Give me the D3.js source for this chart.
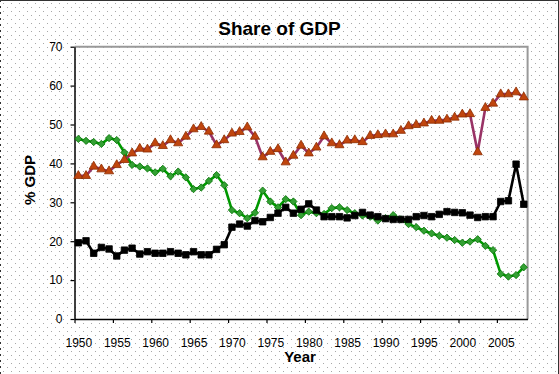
<!DOCTYPE html>
<html>
<head>
<meta charset="utf-8">
<script src="https://cdn.jsdelivr.net/npm/d3@7"></script>
<style>
  body { margin: 0; background: #fff; }
  svg { display: block; font-family: "Liberation Sans", Arial, sans-serif; }
</style>
</head>
<body>
<div class="visiHolder"></div>
<script>
const years = [
  1950, 1951, 1952, 1953, 1954, 1955, 1956, 1957, 1958, 1959,
  1960, 1961, 1962, 1963, 1964, 1965, 1966, 1967, 1968, 1969,
  1970, 1971, 1972, 1973, 1974, 1975, 1976, 1977, 1978, 1979,
  1980, 1981, 1982, 1983, 1984, 1985, 1986, 1987, 1988, 1989,
  1990, 1991, 1992, 1993, 1994, 1995, 1996, 1997, 1998, 1999,
  2000, 2001, 2002, 2003, 2004, 2005, 2006, 2007, 2008
];

const redSeries = [
  36.8, 36.8, 39.2, 38.5, 38.0, 39.6, 40.9, 42.6, 43.8, 43.6,
  45.2, 44.5, 46.0, 45.2, 46.9, 48.8, 49.4, 48.2, 44.7, 46.0,
  47.7, 48.1, 49.3, 46.9, 41.6, 43.0, 43.7, 40.3, 42.0, 44.6,
  42.6, 44.1, 47.0, 45.2, 44.7, 45.9, 46.0, 45.5, 47.1, 47.3,
  47.5, 47.5, 48.4, 49.6, 49.9, 50.3, 51.0, 51.0, 51.3, 51.8,
  52.6, 52.7, 42.9, 54.3, 55.4, 57.8, 57.8, 58.3, 57.0
];

const greenSeries = [
  46.3, 45.8, 45.5, 45.0, 46.5, 46.0, 42.8, 39.6, 39.2, 38.7,
  37.7, 38.6, 36.7, 37.9, 36.4, 33.4, 33.8, 35.5, 37.0, 34.4,
  28.0, 27.2, 25.9, 27.3, 33.0, 30.2, 28.7, 30.8, 30.2, 26.7,
  27.6, 27.2, 27.0, 28.5, 28.7, 28.0, 27.2, 26.6, 26.3, 25.3,
  25.9, 26.7, 25.6, 24.4, 23.6, 22.7, 22.0, 21.4, 20.9, 20.3,
  19.6, 19.9, 20.5, 18.8, 17.7, 11.6, 10.9, 11.3, 13.3
];

const blackSeries = [
  19.6, 20.1, 16.9, 18.4, 18.0, 16.2, 17.7, 18.2, 16.7, 17.3,
  16.9, 16.9, 17.3, 16.9, 16.5, 17.3, 16.5, 16.5, 17.9, 19.1,
  23.6, 24.4, 23.9, 25.3, 25.0, 26.1, 27.2, 28.7, 27.2, 28.2,
  29.6, 28.0, 26.3, 26.3, 26.3, 26.0, 26.6, 27.4, 26.7, 26.3,
  25.8, 25.6, 25.6, 25.6, 26.3, 26.6, 26.3, 26.9, 27.6, 27.4,
  27.3, 26.7, 26.1, 26.3, 26.3, 30.2, 30.4, 39.8, 29.5
];

const xTickYears = [1950, 1955, 1960, 1965, 1970, 1975, 1980, 1985, 1990, 1995, 2000, 2005];
const yTicks = [0, 10, 20, 30, 40, 50, 60, 70];

const width = 559;
const height = 374;
const plotLeft = 74.5;
const plotRight = 527.6;
const plotTop = 46.7;
const plotBottom = 319;

const svg = d3
  .select(".visiHolder")
  .append("svg")
  .attr("width", width)
  .attr("height", height);

// dotted background
const pattern = svg
  .append("defs")
  .append("pattern")
  .attr("id", "dots")
  .attr("width", 8)
  .attr("height", 8)
  .attr("patternUnits", "userSpaceOnUse");
pattern.append("rect").attr("x", 3).attr("y", 3).attr("width", 1).attr("height", 1).attr("fill", "#a8a8a8");
pattern.append("rect").attr("x", 7).attr("y", 7).attr("width", 1).attr("height", 1).attr("fill", "#a8a8a8");

svg.append("rect").attr("width", width).attr("height", height).attr("fill", "#fff");
svg.append("rect").attr("width", width).attr("height", height).attr("fill", "url(#dots)");

// outer border
svg.append("line").attr("x1", 0).attr("x2", width).attr("y1", 0.5).attr("y2", 0.5)
  .attr("stroke", "#333").attr("stroke-width", 1);
svg.append("line").attr("x1", width - 0.5).attr("x2", width - 0.5).attr("y1", 0).attr("y2", height)
  .attr("stroke", "#333").attr("stroke-width", 1);
svg.append("line").attr("x1", 0.5).attr("x2", 0.5).attr("y1", 0).attr("y2", height)
  .attr("stroke", "#333").attr("stroke-width", 1).attr("stroke-dasharray", "2,4");

const xScale = d3.scaleLinear().domain([1950, 2009]).range([plotLeft, plotRight]);
const yScale = d3.scaleLinear().domain([0, 70]).range([plotBottom, plotTop]);
const half = (xScale(1951) - xScale(1950)) / 2;

// plot frame (top and right grey)
svg.append("path")
  .attr("d", `M${plotLeft},${plotTop} H${plotRight} V${plotBottom}`)
  .attr("fill", "none")
  .attr("stroke", "#999")
  .attr("stroke-width", 2);

// title
svg.append("text")
  .attr("x", 279.5)
  .attr("y", 35)
  .attr("text-anchor", "middle")
  .attr("font-size", 19)
  .attr("font-weight", "bold")
  .text("Share of GDP");

// axes
const xAxis = d3.axisBottom(xScale)
  .tickValues(xTickYears)
  .tickFormat(d3.format("d"))
  .tickSize(4)
  .tickSizeOuter(0)
  .tickPadding(15);

const gx = svg.append("g")
  .attr("id", "x-axis")
  .attr("transform", `translate(0, ${plotBottom})`)
  .call(xAxis);
gx.selectAll("text").attr("dx", half).attr("font-size", 12).attr("fill", "#000")
  .attr("font-family", "Liberation Sans, Arial, sans-serif");

const yAxis = d3.axisLeft(yScale)
  .tickValues(yTicks)
  .tickSize(4)
  .tickSizeOuter(0)
  .tickPadding(8);

const gy = svg.append("g")
  .attr("id", "y-axis")
  .attr("transform", `translate(${plotLeft}, 0)`)
  .call(yAxis);
gy.selectAll("text").attr("font-size", 12).attr("fill", "#000")
  .attr("font-family", "Liberation Sans, Arial, sans-serif");

svg.selectAll(".domain").attr("stroke", "#000").attr("stroke-width", 1.5);
svg.selectAll(".tick line").attr("stroke", "#000").attr("stroke-width", 1.2);

svg.append("text")
  .attr("x", 300)
  .attr("y", 362)
  .attr("text-anchor", "middle")
  .attr("font-size", 15)
  .attr("font-weight", "bold")
  .text("Year");

svg.append("text")
  .attr("transform", "translate(35, 180) rotate(-90)")
  .attr("text-anchor", "middle")
  .attr("font-size", 15)
  .attr("font-weight", "bold")
  .text("% GDP");

const line = d3.line()
  .x((d, i) => xScale(years[i] + 0.5))
  .y((d) => yScale(d));

function drawSeries(values, lineColor, marker, fill, stroke) {
  svg.append("path")
    .datum(values)
    .attr("d", line)
    .attr("fill", "none")
    .attr("stroke", lineColor)
    .attr("stroke-width", 2.6)
    .attr("stroke-linejoin", "round");

  svg.append("g")
    .selectAll("path")
    .data(values)
    .enter()
    .append("path")
    .attr("transform", (d, i) => `translate(${xScale(years[i] + 0.5)}, ${yScale(d)})`)
    .attr("d", marker)
    .attr("fill", fill)
    .attr("stroke", stroke)
    .attr("stroke-width", 0.8);
}

drawSeries(greenSeries, "#009900", d3.symbol(d3.symbolDiamond2, 34)(), "#33a033", "#007000");
drawSeries(redSeries, "#993366", d3.symbol(d3.symbolTriangle, 36)(), "#c0450e", "#8b2c00");
drawSeries(blackSeries, "#000", d3.symbol(d3.symbolSquare, 42)(), "#000", "#000");
</script>
</body>
</html>
